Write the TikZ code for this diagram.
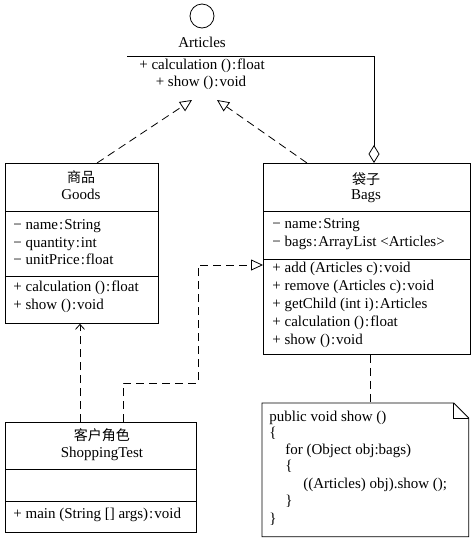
\documentclass[tikz,border=0pt]{standalone}
\usepackage{fontspec}
\setmainfont{Liberation Serif}
\newfontfamily\cjk{Noto Sans CJK SC}
\usetikzlibrary{arrows.meta}

\newcommand\col{\kern1pt:\kern1pt}

\tikzset{
  classbox/.style={draw, line width=0.8pt, anchor=north west, inner sep=0pt},
  txt/.style={anchor=mid west, inner sep=0pt, yshift=-1.5pt, font=\fontsize{15}{18}\selectfont},
  ctxt/.style={anchor=mid, inner sep=0pt, yshift=-1.5pt, font=\fontsize{15}{18}\selectfont},
  cjktxt/.style={anchor=mid, inner sep=0pt, yshift=-1pt, font=\cjk\fontsize{14}{18}\selectfont},
  dep/.style={line width=0.8pt, dash pattern=on 8pt off 5pt},
  real/.style={dep, -{Triangle[open,length=12pt,width=11pt]}},
}

\begin{document}
\begin{tikzpicture}[x=1pt, y=-1pt, line width=0.8pt]
  \useasboundingbox (0,0) rectangle (474,542);

  % interface Articles
  \node[draw, circle, minimum size=24pt, inner sep=0pt] (iface) at (202,16) {};
  \node[ctxt] (artname) at (202,44) {Articles};
  \coordinate (artsepL) at (127,56);
  \coordinate (artsepR) at (277,56);
  \draw (artsepL) -- (artsepR);
  \node[ctxt] (artop1) at (202,66) {+ calculation ()\col float};
  \node[ctxt] (artop2) at (201,83) {+ show ()\col void};
  \coordinate (artL) at (192,100);
  \coordinate (artR) at (217,100);

  % class Goods
  \node[classbox, minimum width=153pt, minimum height=160pt] (goods) at (5,163) {};
  \draw ([yshift=-48pt]goods.north west) -- ([yshift=-48pt]goods.north east);
  \draw ([yshift=-113pt]goods.north west) -- ([yshift=-113pt]goods.north east);
  \node[cjktxt] (goodscn) at (81,179) {商品};
  \node[ctxt] (goodsname) at (81,196) {Goods};
  \node[txt] (goodsa1) at (13,226) {− name\col String};
  \node[txt] (goodsa2) at (13,244) {− quantity\col int};
  \node[txt] (goodsa3) at (13,261) {− unitPrice\col float};
  \node[txt] (goodsm1) at (13,288) {+ calculation ()\col float};
  \node[txt] (goodsm2) at (13,306) {+ show ()\col void};

  % class Bags
  \node[classbox, minimum width=207pt, minimum height=191pt] (bags) at (263,163) {};
  \draw ([yshift=-48pt]bags.north west) -- ([yshift=-48pt]bags.north east);
  \draw ([yshift=-96pt]bags.north west) -- ([yshift=-96pt]bags.north east);
  \node[cjktxt] (bagscn) at (366,181) {袋子};
  \node[ctxt] (bagsname) at (366,196) {Bags};
  \node[txt] (bagsa1) at (272,225) {− name\col String};
  \node[txt] (bagsa2) at (272,243) {− bags\col ArrayList <Articles>};
  \node[txt] (bagsm1) at (272,269) {+ add (Articles c)\col void};
  \node[txt] (bagsm2) at (272,287) {+ remove (Articles c)\col void};
  \node[txt] (bagsm3) at (272,305) {+ getChild (int i)\col Articles};
  \node[txt] (bagsm4) at (272,323) {+ calculation ()\col float};
  \node[txt] (bagsm5) at (272,341) {+ show ()\col void};

  % class ShoppingTest
  \node[classbox, minimum width=191pt, minimum height=110pt] (shop) at (5,422) {};
  \draw ([yshift=-47pt]shop.north west) -- ([yshift=-47pt]shop.north east);
  \draw ([yshift=-79pt]shop.north west) -- ([yshift=-79pt]shop.north east);
  \node[cjktxt] (shopcn) at (102,437) {客户角色};
  \node[ctxt] (shopname) at (102,454) {ShoppingTest};
  \node[txt] (shopm1) at (13,515) {+ main (String [] args)\col void};

  % note
  \node[minimum width=206pt, minimum height=133pt, anchor=north west, inner sep=0pt] (note) at (262,403) {};
  \draw (note.north west) -- ([xshift=-15pt]note.north east) -- ([yshift=-15pt]note.north east)
        -- (note.south east) -- (note.south west) -- cycle;
  \draw ([xshift=-15pt]note.north east) -- ([xshift=-15pt,yshift=-15pt]note.north east)
        -- ([yshift=-15pt]note.north east);
  \node[txt] (code1) at (269,418) {public void show ()};
  \node[txt] (code2) at (269,434) {\{};
  \node[txt] (code3) at (285,451) {for (Object obj:bags)};
  \node[txt] (code4) at (285,467) {\{};
  \node[txt] (code5) at (303,485) {((Articles) obj).show ();};
  \node[txt] (code6) at (285,502) {\}};
  \node[txt] (code7) at (269,520) {\}};

  % connectors
  \draw[real] ([xshift=92pt]goods.north west) -- (artL);
  \draw[real] ([xshift=44pt]bags.north west) -- (artR);
  \draw[-{Diamond[open,length=18pt,width=11pt]}] (artsepR) -| ([xshift=111pt]bags.north west);
  \draw[dep, -{Straight Barb[length=5pt,width=9pt]}] ([xshift=75pt]shop.north west) -- ([xshift=75pt]goods.south west);
  \coordinate (turn) at (198,383);
  \draw[real] ([xshift=118pt]shop.north west) |- (turn) |- ([yshift=-102pt]bags.north west);
  \draw[dep] ([xshift=107pt]bags.south west) -- ([xshift=108pt]note.north west);
\end{tikzpicture}
\end{document}
